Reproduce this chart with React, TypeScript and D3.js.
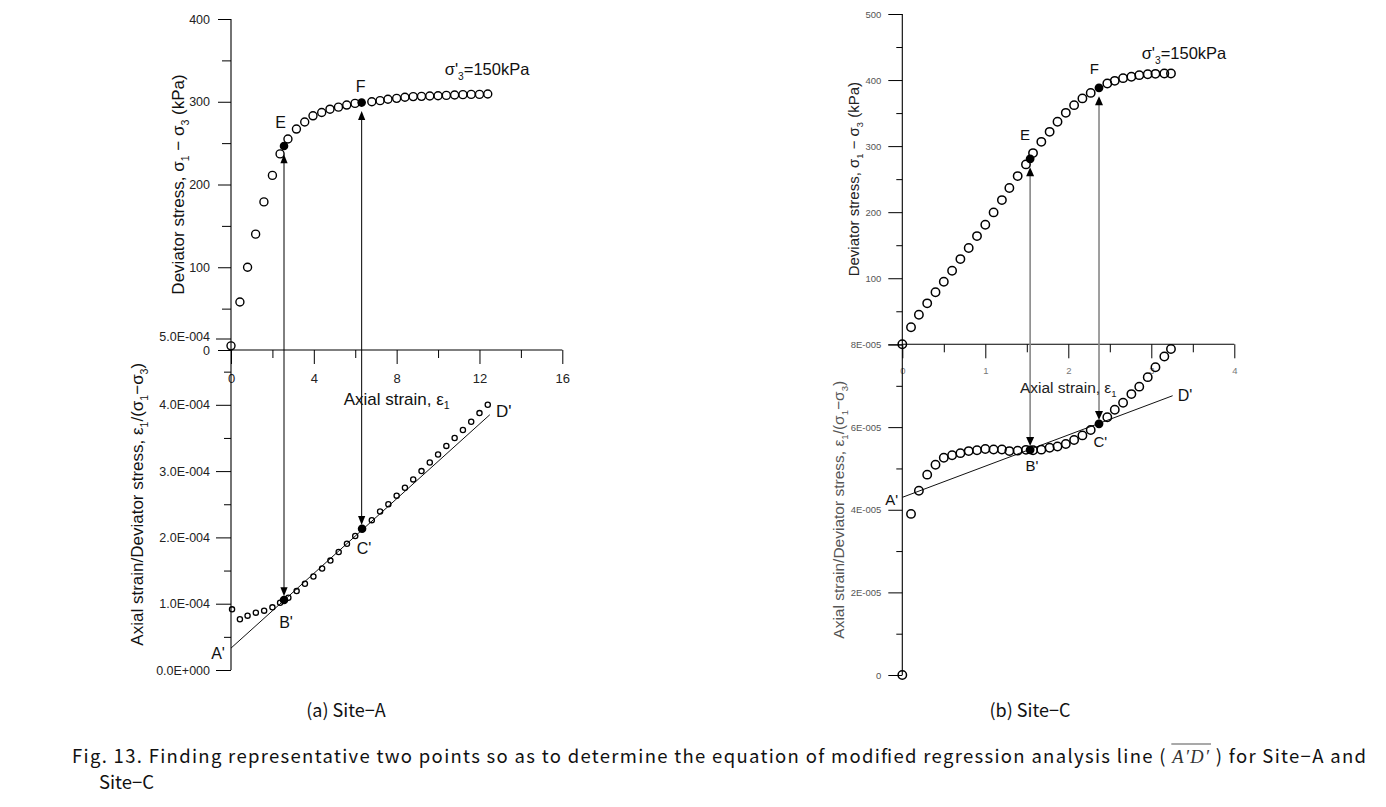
import React, { useEffect, useRef } from 'react';
import * as d3 from 'd3';

// ---------------- Site-A data ----------------
const A_TOP_STRAIN = [0, 0.43, 0.8, 1.19, 1.59, 2.0, 2.37, 2.75, 3.16, 3.56, 3.96, 4.38, 4.78, 5.19, 5.59, 5.99, 6.8, 7.2, 7.58, 8.0, 8.4, 8.8, 9.2, 9.6, 10.0, 10.4, 10.8, 11.2, 11.6, 12.0, 12.4];
const A_TOP_STRESS = [5, 58, 100, 140, 179, 211, 237, 255, 267, 275.5, 283, 287, 291, 293.5, 296, 298, 300, 301.3, 303, 304.1, 305.4, 306.2, 306.5, 306.9, 307.3, 307.7, 308.2, 308.6, 308.9, 308.9, 309.4];
const A_BOT_STRAIN = [0.05, 0.43, 0.8, 1.2, 1.6, 2.0, 2.37, 2.77, 3.17, 3.57, 3.98, 4.4, 4.8, 5.2, 5.6, 6.0, 6.8, 7.2, 7.6, 8.0, 8.4, 8.8, 9.2, 9.6, 10.0, 10.4, 10.8, 11.2, 11.6, 12.0, 12.4];
const A_BOT_RATIO = [0.915, 0.765, 0.82, 0.865, 0.895, 0.945, 1.015, 1.09, 1.19, 1.30, 1.41, 1.53, 1.65, 1.78, 1.905, 2.02, 2.26, 2.39, 2.50, 2.63, 2.75, 2.875, 3.0, 3.13, 3.25, 3.38, 3.5, 3.62, 3.745, 3.875, 4.0].map(v => v * 1e-4);
const A_E = [2.56, 246.5];
const A_F = [6.31, 299];
const A_B = [2.56, 1.056e-4];
const A_C = [6.33, 2.13e-4];
const A_REG = [[0, 0.33e-4], [12.5, 3.85e-4]];
const A_X_MAJOR = [0, 4, 8, 12, 16];
const A_X_MINOR = [2, 6, 10, 14];
const A_YT_MAJOR = [0, 100, 200, 300, 400];
const A_YT_MINOR = [50, 150, 250, 350];
const A_YB_MAJOR = [0, 1, 2, 3, 4, 5].map(v => v * 1e-4);
const A_YB_MINOR = [0.5, 1.5, 2.5, 3.5, 4.5].map(v => v * 1e-4);

// ---------------- Site-C data ----------------
const C_STRAIN = [0, 0.105, 0.2, 0.3, 0.4, 0.5, 0.6, 0.7, 0.8, 0.9, 1.0, 1.1, 1.2, 1.29, 1.39, 1.49, 1.575, 1.675, 1.775, 1.87, 1.97, 2.07, 2.17, 2.27, 2.47, 2.56, 2.66, 2.76, 2.855, 2.957, 3.05, 3.157, 3.237];
const C_TOP_STRESS = [0, 25.7, 44.8, 62, 78.7, 94.7, 111.4, 129, 145.7, 163.8, 181, 199.7, 218.3, 236.5, 254.6, 272.3, 289.4, 306.5, 321.6, 336.8, 350.4, 362, 372.2, 380.6, 394.9, 398.8, 402.9, 404.9, 407.4, 408.9, 409.4, 410, 410];
const C_BOT_RATIO = [0, 3.90, 4.46, 4.85, 5.09, 5.26, 5.32, 5.37, 5.42, 5.44, 5.47, 5.46, 5.46, 5.42, 5.43, 5.45, 5.44, 5.455, 5.50, 5.53, 5.59, 5.69, 5.80, 5.93, 6.24, 6.42, 6.59, 6.80, 6.98, 7.21, 7.45, 7.71, 7.89].map(v => v * 1e-5);
const C_E = [1.54, 280.8];
const C_F = [2.37, 388.2];
const C_B = [1.54, 5.45e-5];
const C_C = [2.37, 6.08e-5];
const C_REG = [[0, 4.30e-5], [3.257, 6.76e-5]];
const C_X_MAJOR = [0, 1, 2, 3, 4];
const C_X_MINOR = [0.5, 1.5, 2.5, 3.5];
const C_YT_MAJOR = [0, 100, 200, 300, 400, 500];
const C_YT_MINOR = [50, 150, 250, 350, 450];
const C_YB_MAJOR = [0, 2, 4, 6, 8].map(v => v * 1e-5);
const C_YB_MINOR = [1, 3, 5, 7].map(v => v * 1e-5);

const FONT = '"Liberation Sans", Arial, sans-serif';
const CAP_FONT = '"Noto Sans CJK KR", "Noto Sans", sans-serif';

const fmtA = (d: number) => {
  const [m, e] = d.toExponential(1).split('e');
  return `${m}E${e[0]}${e.slice(1).padStart(3, '0')}`;
};
const fmtC = (d: number) => {
  if (d === 0) return '0';
  const [m, e] = d.toExponential(0).split('e');
  return `${m}E${e[0]}${e.slice(1).padStart(3, '0')}`;
};

function rich(sel: any, parts: [string, boolean][], fs: number) {
  let sub = false;
  parts.forEach(([t, s]) => {
    const ts = sel.append('tspan').text(t);
    if (s) {
      ts.attr('font-size', fs * 0.62);
      if (!sub) ts.attr('dy', fs * 0.28);
      sub = true;
    } else if (sub) {
      ts.attr('dy', -fs * 0.28);
      sub = false;
    }
  });
}

function drawPanel(svg: any, p: any) {
  const g = svg.append('g');
  const { x, yT, yB } = p;

  const addAxis = (axis: any, tr: string, fs: number, color: string) => {
    const a = g.append('g').attr('transform', tr).call(axis);
    a.select('.domain').remove();
    a.selectAll('line').attr('stroke', p.axisColor).attr('stroke-width', 1);
    a.selectAll('text').attr('font-size', fs).attr('font-family', FONT).attr('fill', color);
    return a;
  };
  const x0 = x(0);
  const yAxisPos = yT(0);

  addAxis(d3.axisLeft(yT).tickValues(p.ytMajor).tickSize(p.ytMajSize).tickPadding(p.ytPad).tickSizeOuter(0)
    .tickFormat((d: any) => (p.ytSkipZero && d === 0 ? '' : String(d))), `translate(${x0},0)`, p.tickFs, p.tickColor);
  addAxis(d3.axisLeft(yT).tickValues(p.ytMinor).tickSize(p.ytMinSize).tickSizeOuter(0).tickFormat(() => ''), `translate(${x0},0)`, p.tickFs, p.tickColor);
  const yb = addAxis(d3.axisLeft(yB).tickValues(p.ybMajor).tickSize(p.ybMajSize).tickPadding(p.ybPad).tickSizeOuter(0).tickFormat(p.ybFmt), `translate(${x0},0)`, p.tickFs, p.tickColor);
  const ybTexts = yb.selectAll('text').nodes();
  d3.select(ybTexts[ybTexts.length - 1]).attr('y', p.topLabelLift);
  addAxis(d3.axisLeft(yB).tickValues(p.ybMinor).tickSize(p.ybMinSize).tickSizeOuter(0).tickFormat(() => ''), `translate(${x0},0)`, p.tickFs, p.tickColor);
  addAxis(d3.axisBottom(x).tickValues(p.xMajor).tickSize(14).tickPadding(p.xPad).tickSizeOuter(0).tickFormat((d: any) => String(d)),
    `translate(0,${yAxisPos})`, p.xTickFs, p.xTickColor);
  addAxis(d3.axisBottom(x).tickValues(p.xMinor).tickSize(8).tickSizeOuter(0).tickFormat(() => ''), `translate(0,${yAxisPos})`, p.tickFs, p.tickColor);

  g.append('line').attr('x1', x0).attr('x2', x0).attr('y1', yT(p.ytMajor[p.ytMajor.length - 1])).attr('y2', yB(0))
    .attr('stroke', p.axisColor).attr('stroke-width', 1.1);
  g.append('line').attr('x1', x0).attr('x2', x(p.xMajor[p.xMajor.length - 1])).attr('y1', yAxisPos).attr('y2', yAxisPos)
    .attr('stroke', p.axisColor).attr('stroke-width', 1.1);

  const line = d3.line<number[]>().x(d => x(d[0])).y(d => yB(d[1]));
  g.append('path').attr('d', line(p.reg)).attr('fill', 'none').attr('stroke', '#111').attr('stroke-width', 1);

  const arrows = [[p.E, p.B], [p.F, p.C]];
  arrows.forEach(([top, bot]: any) => {
    const ax = x(top[0]);
    const yUp = yT(top[1]) + p.fillR + p.gapTop;
    const yDown = yB(bot[1]) - p.fillR + p.gapBot;
    g.append('line').attr('x1', ax).attr('x2', ax).attr('y1', yUp + 3).attr('y2', yDown - 3)
      .attr('stroke', p.arrowColor).attr('stroke-width', p.arrowW);
    const L = 9, hw = p.headW;
    g.append('path').attr('d', `M${ax},${yUp} L${ax - hw},${yUp + L} L${ax + hw},${yUp + L} Z`).attr('fill', '#000');
    g.append('path').attr('d', `M${ax},${yDown} L${ax - hw},${yDown - L} L${ax + hw},${yDown - L} Z`).attr('fill', '#000');
  });

  g.append('g').selectAll('circle').data(d3.zip(p.topStrain, p.topStress)).join('circle')
    .attr('cx', (d: any) => x(d[0])).attr('cy', (d: any) => yT(d[1])).attr('r', p.rTop)
    .attr('fill', 'none').attr('stroke', '#000').attr('stroke-width', p.swTop);
  g.append('g').selectAll('circle').data(d3.zip(p.botStrain, p.botRatio)).join('circle')
    .attr('cx', (d: any) => x(d[0])).attr('cy', (d: any) => yB(d[1])).attr('r', p.rBot)
    .attr('fill', 'none').attr('stroke', '#000').attr('stroke-width', p.swBot);
  [[p.E, yT], [p.F, yT], [p.B, yB], [p.C, yB]].forEach(([pt, ys]: any) => {
    g.append('circle').attr('cx', x(pt[0])).attr('cy', ys(pt[1])).attr('r', p.fillR).attr('fill', '#000');
  });

  const lab = (txt: string, px: number, py: number, dx: number, dy: number, fs: number, anchor = 'middle') =>
    g.append('text').attr('x', px + dx).attr('y', py + dy).attr('text-anchor', anchor)
      .attr('font-family', FONT).attr('font-size', fs).attr('fill', '#111').text(txt);
  const L = p.labels;
  lab('E', x(p.E[0]), yT(p.E[1]), L.E[0], L.E[1], p.labFs);
  lab('F', x(p.F[0]), yT(p.F[1]), L.F[0], L.F[1], p.labFs);
  lab("A'", x(p.reg[0][0]), yB(p.reg[0][1]), L.A[0], L.A[1], p.labFs);
  lab("B'", x(p.B[0]), yB(p.B[1]), L.B[0], L.B[1], p.labFs);
  lab("C'", x(p.C[0]), yB(p.C[1]), L.C[0], L.C[1], p.labFs);
  lab("D'", x(p.reg[1][0]), yB(p.reg[1][1]), L.D[0], L.D[1], p.labFs + 1);

  const last = p.topStrain.length - 1;
  const sl = g.append('text').attr('x', x(p.topStrain[last]) + L.S[0]).attr('y', yT(p.topStress[last]) + L.S[1])
    .attr('font-family', FONT).attr('font-size', p.sigFs).attr('fill', '#111');
  rich(sl, [["σ'", false], ['3', true], ['=150kPa', false]], p.sigFs);

  const xMid = (x.range()[0] + x.range()[1]) / 2;
  const xt = g.append('text').attr('x', xMid).attr('y', p.xTitleY).attr('text-anchor', 'middle')
    .attr('font-family', FONT).attr('font-size', p.xTitleFs).attr('fill', p.xTitleColor);
  rich(xt, [['Axial strain, ε', false], ['1', true]], p.xTitleFs);

  const ytMid = (yT.range()[0] + yT.range()[1]) / 2;
  const t1 = g.append('text').attr('transform', `translate(${p.yTitleTopX},${ytMid}) rotate(-90)`).attr('text-anchor', 'middle')
    .attr('font-family', FONT).attr('font-size', p.yTitleTopFs).attr('fill', p.yTitleTopColor);
  rich(t1, [['Deviator stress, σ', false], ['1', true], [' − σ', false], ['3', true], [' (kPa)', false]], p.yTitleTopFs);
  const ybMid = (yB.range()[0] + yB.range()[1]) / 2;
  const t2 = g.append('text').attr('transform', `translate(${p.yTitleBotX},${ybMid}) rotate(-90)`).attr('text-anchor', 'middle')
    .attr('font-family', FONT).attr('font-size', p.yTitleBotFs).attr('fill', p.yTitleBotColor);
  rich(t2, [['Axial strain/Deviator stress, ε', false], ['1', true], ['/(σ', false], ['1', true], ['−σ', false], ['3', true], [')', false]], p.yTitleBotFs);
}

export default function App() {
  const ref = useRef<SVGSVGElement>(null);
  useEffect(() => {
    const svg = d3.select(ref.current);
    svg.selectAll('*').remove();
    svg.append('rect').attr('width', 1386).attr('height', 807).attr('fill', '#fff');

    drawPanel(svg, {
      x: d3.scaleLinear().domain([0, 16]).range([231, 562.3]),
      yT: d3.scaleLinear().domain([0, 400]).range([350, 19]),
      yB: d3.scaleLinear().domain([0, 5e-4]).range([670, 338.5]),
      xMajor: A_X_MAJOR, xMinor: A_X_MINOR,
      ytMajor: A_YT_MAJOR, ytMinor: A_YT_MINOR, ybMajor: A_YB_MAJOR, ybMinor: A_YB_MINOR,
      ytMajSize: 13, ytMinSize: 9, ytPad: 8, ytSkipZero: false,
      ybMajSize: 15, ybMinSize: 7, ybPad: 6, ybFmt: fmtA, topLabelLift: -2.5,
      xPad: 10, tickFs: 12.5, tickColor: '#222', xTickFs: 13, xTickColor: '#222', axisColor: '#000',
      topStrain: A_TOP_STRAIN, topStress: A_TOP_STRESS, botStrain: A_BOT_STRAIN, botRatio: A_BOT_RATIO,
      E: A_E, F: A_F, B: A_B, C: A_C, reg: A_REG,
      rTop: 4, swTop: 1.4, rBot: 2.6, swBot: 1.3, fillR: 4.3,
      gapTop: 4, gapBot: 0.5, arrowColor: '#000', arrowW: 1, headW: 3.6,
      labFs: 16, sigFs: 16.5,
      labels: { E: [-3.5, -18.5], F: [-1, -10.6], A: [-13, 10.5], B: [2, 28], C: [2, 25.5], D: [14, 2.5], S: [-43, -19] },
      xTitleY: 404.5, xTitleFs: 17, xTitleColor: '#111',
      yTitleTopX: 184, yTitleTopFs: 17, yTitleTopColor: '#111',
      yTitleBotX: 143, yTitleBotFs: 17, yTitleBotColor: '#111',
    });

    drawPanel(svg, {
      x: d3.scaleLinear().domain([0, 4]).range([902.3, 1234.3]),
      yT: d3.scaleLinear().domain([0, 500]).range([344.3, 14]),
      yB: d3.scaleLinear().domain([0, 8e-5]).range([675, 344.5]),
      xMajor: C_X_MAJOR, xMinor: C_X_MINOR,
      ytMajor: C_YT_MAJOR, ytMinor: C_YT_MINOR, ybMajor: C_YB_MAJOR, ybMinor: C_YB_MINOR,
      ytMajSize: 14, ytMinSize: 6, ytPad: 7, ytSkipZero: true,
      ybMajSize: 14, ybMinSize: 6, ybPad: 7, ybFmt: fmtC, topLabelLift: 0,
      xPad: 9, tickFs: 9.5, tickColor: '#555', xTickFs: 9.5, xTickColor: '#777', axisColor: '#000',
      topStrain: C_STRAIN, topStress: C_TOP_STRESS, botStrain: C_STRAIN, botRatio: C_BOT_RATIO,
      E: C_E, F: C_F, B: C_B, C: C_C, reg: C_REG,
      rTop: 4.2, swTop: 1.5, rBot: 4.2, swBot: 1.5, fillR: 4.4,
      gapTop: 4, gapBot: 0.5, arrowColor: '#888', arrowW: 1.6, headW: 4,
      labFs: 15, sigFs: 16.5,
      labels: { E: [-5, -18.7], F: [-4.7, -14], A: [-10.6, 7.6], B: [1.7, 21.5], C: [1.3, 23.5], D: [12.3, 5], S: [-29.3, -14.3] },
      xTitleY: 393, xTitleFs: 15.5, xTitleColor: '#222',
      yTitleTopX: 859, yTitleTopFs: 15, yTitleTopColor: '#222',
      yTitleBotX: 843.5, yTitleBotFs: 15.5, yTitleBotColor: '#555',
    });

    const capStyle = (t: any, fs = 18.5) => t.attr('font-family', CAP_FONT).attr('font-size', fs).attr('fill', '#111');
    capStyle(svg.append('text').attr('x', 346).attr('y', 717).attr('text-anchor', 'middle').text('(a) Site−A'), 18);
    capStyle(svg.append('text').attr('x', 1030).attr('y', 717).attr('text-anchor', 'middle').text('(b) Site−C'), 18);

    const part1 = 'Fig. 13. Finding representative two points so as to determine the equation of modified regression analysis line ( ';
    const line1 = capStyle(svg.append('text').attr('x', 72).attr('y', 763));
    line1.append('tspan').text(part1);
    line1.append('tspan').attr('font-family', '"Liberation Serif", "DejaVu Serif", serif').attr('font-style', 'italic')
      .attr('font-size', 18.5).attr('fill', '#333').text('A′D′');
    line1.append('tspan').text(' ) for Site−A and');
    line1.attr('textLength', 1294).attr('lengthAdjust', 'spacing');
    const node: any = line1.node();
    try {
      const i0 = part1.length;
      const s = node.getStartPositionOfChar(i0).x;
      const e = node.getEndPositionOfChar(i0 + 3).x;
      svg.append('line').attr('x1', s - 1).attr('x2', e + 2).attr('y1', 744).attr('y2', 744)
        .attr('stroke', '#555').attr('stroke-width', 1.2);
    } catch (err) {
      svg.append('line').attr('x1', 1108).attr('x2', 1150).attr('y1', 744).attr('y2', 744)
        .attr('stroke', '#555').attr('stroke-width', 1.2);
    }
    capStyle(svg.append('text').attr('x', 99).attr('y', 789).text('Site−C'));
  }, []);
  return <svg ref={ref} width={1386} height={807} style={{ position: 'absolute', left: 0, top: 0 }} />;
}
